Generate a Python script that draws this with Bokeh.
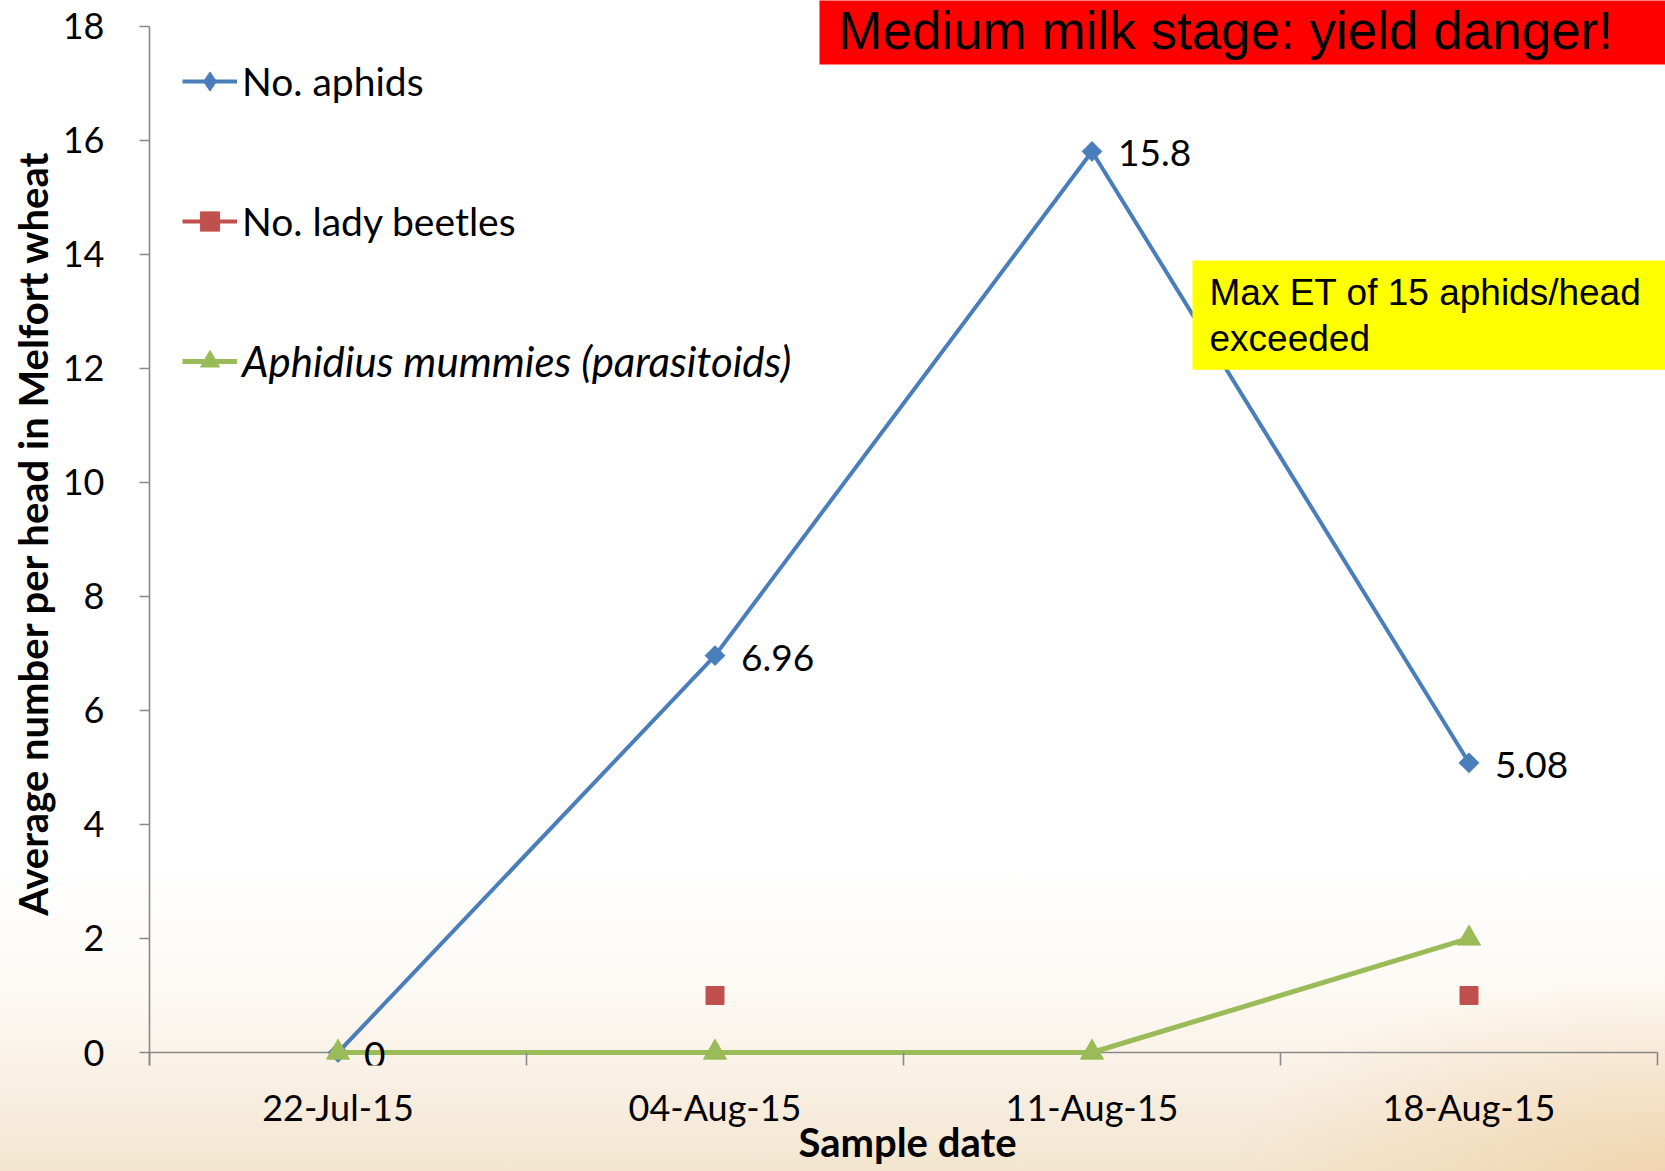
import numpy as np
from bokeh.plotting import figure
from bokeh.models import (ColumnDataSource, Range1d, FixedTicker, Legend, LegendItem,
                          LabelSet, Label)
from bokeh.core.properties import value
from bokeh.embed import file_html
from bokeh.resources import INLINE

# ---- data ----
dates = ["22-Jul-15", "04-Aug-15", "11-Aug-15", "18-Aug-15"]
aphids = [0, 6.96, 15.8, 5.08]
lady_beetles = [np.nan, 1, np.nan, 1]
mummies = [0, 0, 0, 2]
y_ticks = [0, 2, 4, 6, 8, 10, 12, 14, 16, 18]
aphid_labels = ["0", "6.96", "15.8", "5.08"]

BLUE = "#4a7ebb"
RED = "#c0504d"
GREEN = "#9bbb59"
GRAY = "#898989"
FONT = "Lato"

# ---- layout (pixels) ----
W, H = 1665, 1171
FRAME_LEFT = 149          # x = 0
DATA_RIGHT = 1657         # x = n categories
Y_TOP_PX = 25.5           # y = 18
Y_ZERO_PX = 1052          # y = 0
FRAME_BOTTOM = 1065       # bottom of frame (axis tick ends)

n = len(dates)
ymax = y_ticks[-1]
unit_y = (Y_ZERO_PX - Y_TOP_PX) / ymax
unit_x = (DATA_RIGHT - FRAME_LEFT) / n
y_start = -(FRAME_BOTTOM - Y_ZERO_PX) / unit_y
y_end = ymax + Y_TOP_PX / unit_y
x_end = n + (W - DATA_RIGHT) / unit_x

x = [i + 0.5 for i in range(n)]
src = ColumnDataSource(dict(x=x, aphids=aphids, lady=lady_beetles, mummies=mummies,
                            lab=aphid_labels))

p = figure(width=W, height=H, output_backend="svg", toolbar_location=None,
           x_range=Range1d(0, x_end), y_range=Range1d(y_start, y_end),
           min_border_left=FRAME_LEFT, min_border_right=0, min_border_top=0,
           min_border_bottom=H - FRAME_BOTTOM)
p.xgrid.visible = False
p.ygrid.visible = False
p.outline_line_color = None
p.background_fill_alpha = 0
p.border_fill_alpha = 0
p.styles = {"background": "radial-gradient(ellipse 26% 17% at 100% 100%, rgba(238,198,145,0.5), rgba(238,198,145,0)), "
                          "linear-gradient(to bottom, #ffffff 0%, #ffffff 74%, #fdfaf5 84%, #f8efe2 93%, #f3e5cf 100%)"}

# horizontal axis line at y = 0 (spans the category area)
p.segment(x0=[0], y0=[0], x1=[n], y1=[0], line_color=GRAY, line_width=1.6, level="underlay")

# ---- series ----
l_aph = p.line("x", "aphids", source=src, line_color=BLUE, line_width=4)
s_aph = p.scatter("x", "aphids", source=src, marker="square", angle=np.pi / 4, size=14,
                  fill_color=BLUE, line_color=BLUE)
# legend swatch for the diamond marker (no visible point)
leg_aph = p.scatter(x=[np.nan], y=[np.nan], marker="diamond", fill_color=BLUE, line_color=BLUE)
l_lady = p.line("x", "lady", source=src, line_color=RED, line_width=4)
s_lady = p.scatter("x", "lady", source=src, marker="square", size=18, fill_color=RED, line_color=RED)
l_mum = p.line("x", "mummies", source=src, line_color=GREEN, line_width=5)
s_mum = p.scatter("x", "mummies", source=src, marker="triangle", size=23,
                  fill_color=GREEN, line_color=GREEN)

p.add_layout(LabelSet(x="x", y="aphids", text="lab", source=src, x_offset=26, y_offset=-2,
                      text_baseline="middle", text_align="left", text_font=value(FONT),
                      text_font_size="37px", text_color="black"))

# ---- axes ----
xa = p.xaxis[0]
xa.ticker = FixedTicker(ticks=x, minor_ticks=list(range(n + 1)))
xa.bounds = (0, n)
xa.major_label_overrides = {xi: d for xi, d in zip(x, dates)}
xa.axis_line_color = None
xa.major_tick_in = 0
xa.major_tick_out = 0
xa.minor_tick_in = FRAME_BOTTOM - Y_ZERO_PX
xa.minor_tick_out = 0
xa.minor_tick_line_color = GRAY
xa.minor_tick_line_width = 1.6
xa.major_label_text_font = FONT
xa.major_label_text_font_size = "36px"
xa.major_label_text_color = "black"
xa.major_label_standoff = 19
xa.axis_label = "Sample date"
xa.axis_label_text_font = FONT
xa.axis_label_text_font_style = "bold"
xa.axis_label_text_font_size = "40px"
xa.axis_label_text_color = "black"
xa.axis_label_standoff = -14

ya = p.yaxis[0]
ya.ticker = FixedTicker(ticks=y_ticks)
ya.bounds = (y_start, ymax)
ya.axis_line_color = GRAY
ya.axis_line_width = 1.6
ya.major_tick_line_color = GRAY
ya.major_tick_line_width = 1.6
ya.major_tick_in = 0
ya.major_tick_out = 10
ya.minor_tick_line_color = None
ya.major_label_text_font = FONT
ya.major_label_text_font_size = "36px"
ya.major_label_text_color = "black"
ya.major_label_standoff = 35
ya.axis_label = "Average number per head in Melfort wheat"
ya.axis_label_text_font = FONT
ya.axis_label_text_font_style = "bold"
ya.axis_label_text_font_size = "40px"
ya.axis_label_text_color = "black"
ya.axis_label_standoff = 3

# ---- legends (one per item so the last can be italic) ----
entries = [("No. aphids", [l_aph, leg_aph], "normal", "39px", 81),
           ("No. lady beetles", [l_lady, s_lady], "normal", "39px", 221),
           ("Aphidius mummies (parasitoids)", [l_mum, s_mum], "italic", "42px", 362)]
GH = 48
for label, rends, style, fsize, cy in entries:
    lg = Legend(items=[LegendItem(label=label, renderers=rends)],
                location=(33, FRAME_BOTTOM - cy - GH // 2),
                border_line_color=None, background_fill_alpha=0, padding=0, margin=0,
                glyph_width=55, glyph_height=GH, label_height=GH, label_standoff=5,
                label_text_font=FONT, label_text_font_size=fsize,
                label_text_font_style=style, label_text_color="black")
    p.add_layout(lg)

# ---- annotation boxes ----
p.add_layout(Label(x=819, y=-20, x_units="canvas", y_units="canvas",
                   text="Medium milk stage: yield danger!", text_font="Liberation Sans",
                   text_font_size="53px", text_color="black", text_baseline="top",
                   text_align="left", background_fill_color="#ff0000",
                   padding=dict(left=19, right=80, top=20, bottom=5)))
p.add_layout(Label(x=1192, y=260, x_units="canvas", y_units="canvas",
                   text="Max ET of 15 aphids/head\nexceeded", text_font="Liberation Sans",
                   text_font_size="37px", text_color="black", text_baseline="top",
                   text_align="left", text_line_height=1.13, background_fill_color="#ffff00",
                   padding=dict(left=17, right=60, top=11, bottom=11)))

open("out.html", "w").write(file_html(p, INLINE))
